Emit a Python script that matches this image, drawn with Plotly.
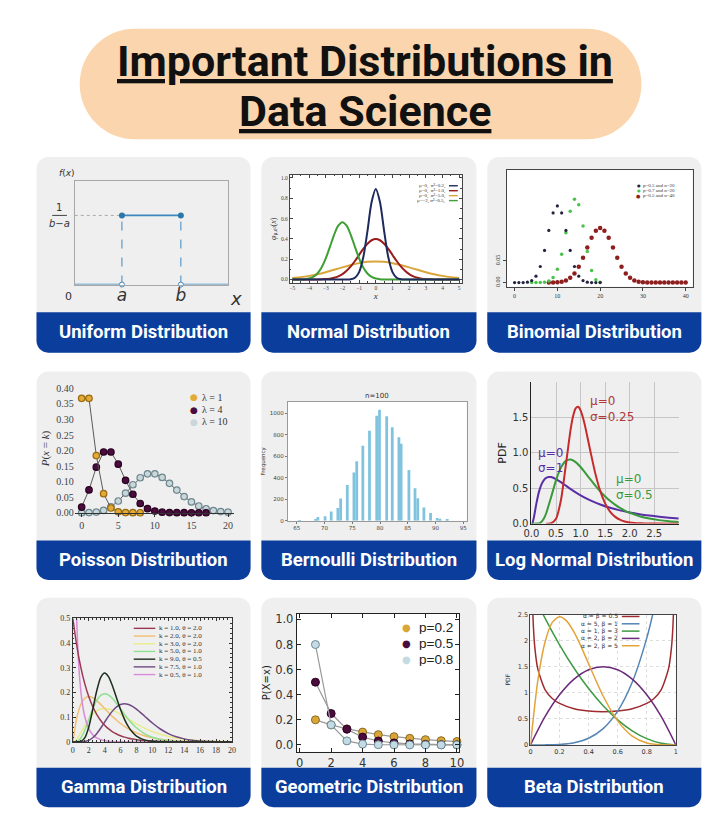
import plotly.graph_objects as go

W, H = 726, 825

# ======================= DATA =======================
title_line1 = "Important Distributions in"
title_line2 = "Data Science"
panel_names = ["Uniform Distribution", "Normal Distribution", "Binomial Distribution",
               "Poisson Distribution", "Bernoulli Distribution", "Log Normal Distribution",
               "Gamma Distribution", "Geometric Distribution", "Beta Distribution"]

# 1 Uniform
uni_a = 2.0
uni_b = 4.5
uni_xmax = 6.5
uni_pdf = 0.4

# 2 Normal
norm_labels = ["μ=0,  σ²=0.2,", "μ=0,  σ²=1.0,", "μ=0,  σ²=5.0,", "μ=−2, σ²=0.5,"]
norm_colors = ["#1f2a5c", "#9a1c1c", "#d9a53a", "#3f9f35"]
norm_x_a = [-5, -3, -2, -1.75, -1.5, -1.25, -1, -0.75, -0.5, -0.25, 0, 0.25, 0.5, 0.75, 1, 1.25, 1.5, 1.75, 2, 3, 5]
norm_y_a = [0, 0, 0, 0.0004, 0.0032, 0.0179, 0.0732, 0.219, 0.477, 0.763, 0.892, 0.763, 0.477, 0.219, 0.0732, 0.0179, 0.0032, 0.0004, 0, 0, 0]
norm_x_b = [-5, -4.5, -4, -3.5, -3, -2.75, -2.5, -2.25, -2, -1.75, -1.5, -1.25, -1, -0.75, -0.5, -0.25, 0,
            0.25, 0.5, 0.75, 1, 1.25, 1.5, 1.75, 2, 2.25, 2.5, 2.75, 3, 3.5, 4, 4.5, 5]
norm_y_b = [0, 0, 0.0001, 0.0009, 0.0044, 0.0091, 0.0175, 0.0317, 0.0540, 0.0863, 0.1295, 0.1826, 0.2420, 0.3011, 0.3521, 0.3867, 0.3989,
            0.3867, 0.3521, 0.3011, 0.2420, 0.1826, 0.1295, 0.0863, 0.0540, 0.0317, 0.0175, 0.0091, 0.0044, 0.0009, 0.0001, 0, 0]
norm_x_c = [-5, -4.5, -4, -3.5, -3, -2.5, -2, -1.5, -1, -0.5, 0, 0.5, 1, 1.5, 2, 2.5, 3, 3.5, 4, 4.5, 5]
norm_y_c = [0.0146, 0.0236, 0.0360, 0.0524, 0.0725, 0.0955, 0.1196, 0.1425, 0.1614, 0.1740, 0.1784,
            0.1740, 0.1614, 0.1425, 0.1196, 0.0955, 0.0725, 0.0524, 0.0360, 0.0236, 0.0146]
norm_x_d = [-5, -4.75, -4.5, -4.25, -4, -3.75, -3.5, -3.25, -3, -2.75, -2.5, -2.25, -2, -1.75, -1.5, -1.25, -1,
            -0.75, -0.5, -0.25, 0, 0.25, 0.5, 1, 2, 3, 4, 5]
norm_y_d = [0.0001, 0.0003, 0.0011, 0.0036, 0.0103, 0.0264, 0.0595, 0.1183, 0.2076, 0.3215, 0.4394, 0.5300, 0.5642,
            0.5300, 0.4394, 0.3215, 0.2076, 0.1183, 0.0595, 0.0264, 0.0103, 0.0036, 0.0011, 0, 0, 0, 0, 0]

# 3 Binomial
binom_labels = ["p=0.5 and n=20", "p=0.7 and n=20", "p=0.5 and n=40"]
binom_colors = ["#23233f", "#4cc24c", "#8e1f1f"]
binom_k_a = list(range(0, 21))
binom_p_a = [0.0000, 0.0000, 0.0002, 0.0011, 0.0046, 0.0148, 0.0370, 0.0739, 0.1201, 0.1602, 0.1762,
             0.1602, 0.1201, 0.0739, 0.0370, 0.0148, 0.0046, 0.0011, 0.0002, 0.0000, 0.0000]
binom_k_b = list(range(4, 21))
binom_p_b = [0.0000, 0.0000, 0.0002, 0.0010, 0.0039, 0.0120, 0.0308, 0.0654, 0.1144, 0.1643, 0.1916,
             0.1789, 0.1304, 0.0716, 0.0278, 0.0068, 0.0008]
binom_k_c = list(range(8, 41))
binom_p_c = [0.0000, 0.0002, 0.0008, 0.0021, 0.0051, 0.0109, 0.0211, 0.0366, 0.0572, 0.0807, 0.1031, 0.1194,
             0.1254, 0.1194, 0.1031, 0.0807, 0.0572, 0.0366, 0.0211, 0.0109, 0.0051, 0.0021, 0.0008, 0.0002,
             0, 0, 0, 0, 0, 0, 0, 0, 0]

# 4 Poisson
pois_labels = ["λ = 1", "λ = 4", "λ = 10"]
pois_fill = ["#e2aa36", "#4a0c3c", "#c9d6da"]
pois_edge = ["#9a6a10", "#2a0020", "#6f8890"]
pois_k_1 = list(range(0, 9))
pois_p_1 = [0.3679, 0.3679, 0.1839, 0.0613, 0.0153, 0.0031, 0.0005, 0.0001, 0.0000]
pois_k_4 = list(range(0, 18))
pois_p_4 = [0.0183, 0.0733, 0.1465, 0.1954, 0.1954, 0.1563, 0.1042, 0.0595, 0.0298, 0.0132, 0.0053, 0.0019,
            0.0006, 0.0002, 0.0001, 0.0000, 0.0000, 0.0000]
pois_k_10 = list(range(0, 21))
pois_p_10 = [0.0000, 0.0005, 0.0023, 0.0076, 0.0189, 0.0378, 0.0631, 0.0901, 0.1126, 0.1251, 0.1251, 0.1137,
             0.0948, 0.0729, 0.0521, 0.0347, 0.0217, 0.0128, 0.0071, 0.0037, 0.0019]

# 5 Bernoulli (histogram, n=100)
bern_x = [65.5, 68.4, 68.8, 70.1, 71.2, 72.4, 72.9, 74.1, 75.3, 75.8, 76.9, 78.1, 79.4, 79.9, 81.2, 82.2,
          83.4, 83.8, 85.2, 86.3, 86.8, 87.9, 89.1, 90.3, 90.8, 92.1]
bern_count = [5, 15, 34, 40, 86, 117, 206, 332, 449, 554, 698, 837, 978, 1034, 972, 871,
              778, 717, 471, 302, 209, 123, 71, 25, 18, 6]

# 6 Log normal
ln_x_025 = [0.3, 0.4, 0.5, 0.6, 0.7, 0.8, 0.85, 0.9, 0.95, 1.0, 1.05, 1.1, 1.2, 1.3, 1.4, 1.5, 1.6, 1.7, 1.8,
            1.9, 2.0, 2.1, 2.2, 2.3, 2.4, 2.5, 3.0]
ln_y_025 = [0.0, 0.0048, 0.0683, 0.330, 0.824, 1.339, 1.520, 1.622, 1.645, 1.596, 1.491, 1.349, 1.019, 0.708,
            0.461, 0.286, 0.170, 0.0987, 0.0559, 0.0311, 0.0171, 0.0093, 0.0050, 0.0027, 0.0014, 0.0008, 0.0]
ln_x_05 = [0, 0.1, 0.15, 0.2, 0.25, 0.3, 0.4, 0.5, 0.6, 0.7, 0.8, 0.9, 1.0, 1.1, 1.2, 1.3, 1.4, 1.5, 1.6, 1.7,
           1.8, 1.9, 2.0, 2.2, 2.4, 2.6, 2.8, 3.0]
ln_y_05 = [0, 0.0002, 0.0040, 0.0224, 0.0683, 0.1465, 0.372, 0.610, 0.789, 0.884, 0.903, 0.867, 0.798, 0.712,
           0.622, 0.535, 0.454, 0.383, 0.321, 0.267, 0.222, 0.184, 0.153, 0.105, 0.0718, 0.0494, 0.0342, 0.0238]
ln_x_1 = [0, 0.02, 0.05, 0.1, 0.15, 0.2, 0.25, 0.3, 0.35, 0.4, 0.5, 0.6, 0.7, 0.8, 0.9, 1.0, 1.2, 1.4, 1.6,
          1.8, 2.0, 2.2, 2.4, 2.6, 2.8, 3.0]
ln_y_1 = [0, 0.0095, 0.0898, 0.2816, 0.440, 0.546, 0.610, 0.644, 0.657, 0.6555, 0.6276, 0.5836, 0.5348, 0.4864,
          0.4409, 0.3989, 0.3269, 0.2693, 0.2233, 0.1864, 0.1569, 0.1329, 0.1133, 0.0972, 0.0839, 0.0727]
ln_colors = ["#c62b2b", "#3a9a3a", "#5a2ea6"]

# 7 Gamma
gam_labels = ["k = 1.0, θ = 2.0", "k = 2.0, θ = 2.0", "k = 3.0, θ = 2.0", "k = 5.0, θ = 1.0",
              "k = 9.0, θ = 0.5", "k = 7.5, θ = 1.0", "k = 0.5, θ = 1.0"]
gam_colors = ["#9b3a55", "#f3be72", "#e8ec8a", "#8fe08f", "#1e2e1e", "#6f4a82", "#d98ad8"]
g_x1 = [0, 0.5, 1, 1.5, 2, 2.5, 3, 3.5, 4, 4.5, 5, 5.5, 6, 6.5, 7, 7.5, 8, 9, 10, 11, 12, 14, 16, 20]
g_y1 = [0.5, 0.3894, 0.3033, 0.2362, 0.1839, 0.1433, 0.1116, 0.0869, 0.0677, 0.0527, 0.0410, 0.0320, 0.0249,
        0.0194, 0.0151, 0.0118, 0.0092, 0.0056, 0.0034, 0.0020, 0.0012, 0.0005, 0.0002, 0]
g_x2 = [0, 0.5, 1, 1.5, 2, 2.5, 3, 3.5, 4, 4.5, 5, 5.5, 6, 6.5, 7, 7.5, 8, 9, 10, 11, 12, 13, 14, 16, 18, 20]
g_y2 = [0, 0.0974, 0.1516, 0.1771, 0.1839, 0.1791, 0.1673, 0.1521, 0.1353, 0.1186, 0.1026, 0.0880, 0.0747,
        0.0631, 0.0528, 0.0443, 0.0366, 0.0250, 0.0168, 0.0112, 0.0074, 0.0049, 0.0032, 0.0013, 0.0006, 0.0002]
g_x3 = [0, 0.5, 1, 1.5, 2, 2.5, 3, 3.5, 4, 4.5, 5, 5.5, 6, 6.5, 7, 7.5, 8, 9, 10, 11, 12, 13, 14, 15, 16, 18, 20]
g_y3 = [0, 0.0122, 0.0379, 0.0664, 0.0920, 0.1119, 0.1255, 0.1331, 0.1353, 0.1334, 0.1283, 0.1208, 0.1120,
        0.1025, 0.0925, 0.0826, 0.0733, 0.0562, 0.0421, 0.0309, 0.0223, 0.0159, 0.0112, 0.0078, 0.0054, 0.0025, 0.0011]
g_x4 = [0, 0.5, 1, 1.5, 2, 2.5, 3, 3.5, 4, 4.5, 5, 5.5, 6, 6.5, 7, 7.5, 8, 9, 10, 11, 12, 13, 14, 16, 20]
g_y4 = [0, 0.0016, 0.0153, 0.0471, 0.0902, 0.1336, 0.1680, 0.1888, 0.1954, 0.1898, 0.1755, 0.1558, 0.1339,
        0.1118, 0.0912, 0.0729, 0.0573, 0.0337, 0.0189, 0.0102, 0.0053, 0.0027, 0.0013, 0.0003, 0]
g_x5 = [0, 1, 1.5, 2, 2.5, 3, 3.5, 4, 4.5, 5, 5.5, 6, 6.5, 7, 7.5, 8, 9, 10, 11, 12, 14, 20]
g_y5 = [0, 0.0017, 0.0162, 0.0595, 0.1306, 0.2065, 0.2608, 0.2791, 0.2635, 0.2252, 0.1776, 0.1310, 0.0915,
        0.0609, 0.0389, 0.0240, 0.0083, 0.0026, 0.0008, 0.0002, 0, 0]
g_x6 = [0, 1, 1.5, 2, 2.5, 3, 3.5, 4, 4.5, 5, 5.5, 6, 6.5, 7, 7.5, 8, 9, 10, 11, 12, 13, 14, 15, 16, 17, 18, 20]
g_y6 = [0, 0.0002, 0.0017, 0.0065, 0.0169, 0.0336, 0.0555, 0.0802, 0.1046, 0.1258, 0.1418, 0.1515, 0.1546,
        0.1517, 0.1441, 0.1329, 0.1052, 0.0767, 0.0524, 0.0340, 0.0210, 0.0125, 0.0072, 0.0040, 0.0022, 0.0012, 0.0003]
g_x7 = [0.1, 0.15, 0.2, 0.3, 0.4, 0.5, 0.75, 1, 1.25, 1.5, 2, 2.5, 3, 4, 5, 6, 8, 20]
g_y7 = [1.614, 1.254, 1.033, 0.763, 0.598, 0.484, 0.3077, 0.2076, 0.1446, 0.1028, 0.0540, 0.0293, 0.0162,
        0.0052, 0.0017, 0.0006, 0.0001, 0]

# 8 Geometric
geo_labels = ["p=0.2", "p=0.5", "p=0.8"]
geo_fill = ["#d9a637", "#4a0b3d", "#c5dbe3"]
geo_edge = ["#8a6a20", "#2a0020", "#6a8a96"]
geo_x = [1, 2, 3, 4, 5, 6, 7, 8, 9, 10]
geo_p02 = [0.2, 0.16, 0.128, 0.1024, 0.0819, 0.0655, 0.0524, 0.0419, 0.0336, 0.0268]
geo_p05 = [0.5, 0.25, 0.125, 0.0625, 0.0313, 0.0156, 0.0078, 0.0039, 0.0020, 0.0010]
geo_p08 = [0.8, 0.16, 0.032, 0.0064, 0.0013, 0.0003, 0.0001, 0, 0, 0]

# 9 Beta
beta_labels = ["α = β = 0.5", "α = 5, β = 1", "α = 1, β = 3", "α = 2, β = 2", "α = 2, β = 5"]
beta_colors = ["#9e2b2f", "#5585b5", "#3f9a45", "#6a2a78", "#e3a33a"]
b_x_a = [0.004, 0.01, 0.02, 0.03, 0.05, 0.1, 0.15, 0.2, 0.3, 0.4, 0.5, 0.6, 0.7, 0.8, 0.85, 0.9, 0.95, 0.97, 0.98, 0.99, 0.996]
b_y_a = [5.04, 3.199, 2.274, 1.866, 1.461, 1.061, 0.891, 0.796, 0.695, 0.650, 0.637, 0.650, 0.695, 0.796, 0.891,
         1.061, 1.461, 1.866, 2.274, 3.199, 5.04]
b_x_b = [0, 0.1, 0.2, 0.3, 0.4, 0.5, 0.6, 0.7, 0.8, 0.85, 0.9]
b_y_b = [0, 0.0005, 0.008, 0.0405, 0.128, 0.3125, 0.648, 1.2005, 2.048, 2.610, 3.2805]
b_x_c = [0, 0.1, 0.2, 0.3, 0.4, 0.5, 0.6, 0.7, 0.8, 0.9, 1.0]
b_y_c = [3, 2.43, 1.92, 1.47, 1.08, 0.75, 0.48, 0.27, 0.12, 0.03, 0]
b_y_d = [0, 0.54, 0.96, 1.26, 1.44, 1.5, 1.44, 1.26, 0.96, 0.54, 0]
b_x_e = [0, 0.05, 0.1, 0.15, 0.2, 0.25, 0.3, 0.35, 0.4, 0.5, 0.6, 0.7, 0.8, 0.9, 1]
b_y_e = [0, 1.2218, 1.968, 2.349, 2.458, 2.373, 2.161, 1.874, 1.555, 0.9375, 0.4608, 0.1701, 0.0384, 0.0027, 0]

# ======================= LAYOUT (pixels) =======================
CARD_X = [(29, 247), (258, 477), (488, 706)]
CARD_Y = [(155, 312, 353), (372, 543, 583), (601, 773, 813)]
PLOT = {1: (68, 179, 224, 284), 2: (287, 173, 462, 282), 3: (508, 168, 697, 286),
        4: (68, 385, 230, 515), 5: (285, 403, 467, 523), 6: (533, 383, 683, 526),
        7: (66, 622, 228, 747), 8: (294, 617, 459, 757), 9: (532, 618, 680, 750)}
CARD_BG = "#efefef"
BAR_BLUE = "#0b3e9c"
PEACH = "#fbd5ad"
SANS = "DejaVu Sans"
SERIF = "Liberation Serif"


def X(p):
    return p / W


def Y(p):
    return 1 - p / H


def rr_path(x0, y0, x1, y1, rt, rb):
    k = 0.5523
    pts = [
        f"M {X(x0 + rt)},{Y(y0)}", f"L {X(x1 - rt)},{Y(y0)}",
        f"C {X(x1 - rt + k * rt)},{Y(y0)} {X(x1)},{Y(y0 + rt - k * rt)} {X(x1)},{Y(y0 + rt)}",
        f"L {X(x1)},{Y(y1 - rb)}",
        f"C {X(x1)},{Y(y1 - rb + k * rb)} {X(x1 - rb + k * rb)},{Y(y1)} {X(x1 - rb)},{Y(y1)}",
        f"L {X(x0 + rb)},{Y(y1)}",
        f"C {X(x0 + rb - k * rb)},{Y(y1)} {X(x0)},{Y(y1 - rb + k * rb)} {X(x0)},{Y(y1 - rb)}",
        f"L {X(x0)},{Y(y0 + rt)}",
        f"C {X(x0)},{Y(y0 + rt - k * rt)} {X(x0 + rt - k * rt)},{Y(y0)} {X(x0 + rt)},{Y(y0)}", "Z"]
    return " ".join(pts)


shapes = []
annotations = []
layout = {}
fig = go.Figure()


def ann_px(x, y, text, size, color="#222", family=SANS, xanchor="left", yanchor="middle", **kw):
    annotations.append(dict(x=X(x), y=Y(y), xref="paper", yref="paper", text=text, showarrow=False,
                            font=dict(size=size, color=color, family=family),
                            xanchor=xanchor, yanchor=yanchor, **kw))


def line_px(x0, x1, y, color, width):
    shapes.append(dict(type="line", xref="paper", yref="paper", x0=X(x0), x1=X(x1), y0=Y(y), y1=Y(y),
                       line=dict(color=color, width=width)))


def axes(i, xr, yr, xkw=None, ykw=None):
    l, t, r, b = PLOT[i]
    s = "" if i == 1 else str(i)
    xa = dict(domain=[X(l), X(r)], range=xr, anchor="y" + s, showgrid=False, zeroline=False, fixedrange=True)
    ya = dict(domain=[Y(b), Y(t)], range=yr, anchor="x" + s, showgrid=False, zeroline=False, fixedrange=True)
    xa.update(xkw or {})
    ya.update(ykw or {})
    layout["xaxis" + s] = xa
    layout["yaxis" + s] = ya
    return "x" + s, "y" + s


# ---------- background: title pill, cards, blue bars ----------
shapes.append(dict(type="path", xref="paper", yref="paper", path=rr_path(73, 25, 645, 137, 56, 56),
                   fillcolor=PEACH, line=dict(width=0), layer="below"))
for r, (ct, bt, cb) in enumerate(CARD_Y):
    for c, (cl, cr) in enumerate(CARD_X):
        shapes.append(dict(type="path", xref="paper", yref="paper", path=rr_path(cl, ct, cr, cb, 12, 12),
                           fillcolor=CARD_BG, line=dict(width=0), layer="below"))
        shapes.append(dict(type="path", xref="paper", yref="paper", path=rr_path(cl, bt, cr, cb, 0, 12),
                           fillcolor=BAR_BLUE, line=dict(width=0), layer="below"))
        ann_px((cl + cr) / 2, (bt + cb) / 2, "<b>" + panel_names[r * 3 + c] + "</b>", 18.5,
               color="white", family="Roboto", xanchor="center")

ann_px(364, 58, "<b><u>" + title_line1 + "</u></b>", 43, color="#111", family="Roboto", xanchor="center")
ann_px(364, 108, "<b><u>" + title_line2 + "</u></b>", 43, color="#111", family="Roboto", xanchor="center")

# white plot backgrounds
for i in [2, 3, 5, 8, 9]:
    s = "" if i == 1 else str(i)
    shapes.append(dict(type="rect", xref="x" + s + " domain", yref="y" + s + " domain", x0=0, x1=1, y0=0, y1=1,
                       fillcolor="white", line=dict(width=0), layer="below"))

# ---------- 1 Uniform ----------
UB = "#3f88bf"
xa, ya = axes(1, [0, uni_xmax], [0, 0.6],
              dict(showline=True, mirror=True, linecolor="#a8a8a8", linewidth=1, ticks="",
                   tickvals=[uni_a, uni_b], ticktext=["<i>a</i>", "<i>b</i>"], ticklabelstandoff=-5,
                   tickfont=dict(size=17, color="#333", family=SANS)),
              dict(showline=True, mirror=True, linecolor="#a8a8a8", linewidth=1, ticks="", showticklabels=False))
fig.add_trace(go.Scatter(x=[0, uni_a], y=[uni_pdf, uni_pdf], mode="lines", xaxis=xa, yaxis=ya,
                         line=dict(color="#aaaaaa", width=1, dash="dot")))
fig.add_trace(go.Scatter(x=[uni_a, uni_a, None, uni_b, uni_b], y=[0, uni_pdf, None, 0, uni_pdf], mode="lines",
                         xaxis=xa, yaxis=ya, line=dict(color=UB, width=1, dash="dash")))
fig.add_trace(go.Scatter(x=[0, uni_a, None, uni_a, uni_b, None, uni_b, uni_xmax],
                         y=[0, 0, None, uni_pdf, uni_pdf, None, 0, 0], mode="lines", cliponaxis=False,
                         xaxis=xa, yaxis=ya, line=dict(color=UB, width=1.6)))
fig.add_trace(go.Scatter(x=[uni_a, uni_b], y=[uni_pdf, uni_pdf], mode="markers", xaxis=xa, yaxis=ya,
                         marker=dict(color="#2a78aa", size=6)))
fig.add_trace(go.Scatter(x=[uni_a, uni_b], y=[0, 0], mode="markers", xaxis=xa, yaxis=ya, cliponaxis=False,
                         marker=dict(color="white", size=5, line=dict(color=UB, width=1))))
annotations.append(dict(x=0, y=0, xref=xa, yref=ya, text="0", showarrow=False, xanchor="right", yanchor="top",
                        xshift=-1, yshift=-3, font=dict(size=11, color="#333", family=SANS)))
annotations.append(dict(x=uni_xmax, y=0, xref=xa, yref=ya, text="<i>x</i>", showarrow=False, xanchor="left",
                        yanchor="top", xshift=0, yshift=-1, font=dict(size=18, color="#333", family=SANS)))
annotations.append(dict(x=X(60), y=1, xref="paper", yref=ya + " domain", text="<i>f</i>(<i>x</i>)", showarrow=False,
                        xanchor="center", yanchor="bottom", yshift=1, font=dict(size=9, color="#333", family=SANS)))
annotations.append(dict(x=X(52), y=uni_pdf, xref="paper", yref=ya, text="1", showarrow=False, xanchor="center",
                        yanchor="bottom", yshift=0, font=dict(size=10, color="#333", family=SANS)))
annotations.append(dict(x=X(52), y=uni_pdf, xref="paper", yref=ya, text="<i>b</i>−<i>a</i>", showarrow=False,
                        xanchor="center", yanchor="top", yshift=-1, font=dict(size=10, color="#333", family=SANS)))
shapes.append(dict(type="line", xref="paper", yref=ya, x0=X(45), x1=X(60), y0=uni_pdf, y1=uni_pdf,
                   line=dict(color="#444", width=1)))

# ---------- 2 Normal ----------
tick_small = dict(showline=True, mirror="ticks", linecolor="#444", linewidth=1, ticks="inside", ticklen=3,
                  tickwidth=0.8, tickcolor="#444", tickfont=dict(size=5.5, color="#444", family=SERIF))
xa, ya = axes(2, [-5.15, 5.15], [-0.03, 1.03],
              dict(tick_small, dtick=1, minor=dict(ticks="inside", ticklen=1.5, dtick=0.5, tickcolor="#444"),
                   title=dict(text="<i>x</i>", font=dict(size=9, family=SERIF, color="#333"), standoff=2)),
              dict(tick_small, dtick=0.2, tickformat=".1f",
                   minor=dict(ticks="inside", ticklen=1.5, dtick=0.1, tickcolor="#444"),
                   title=dict(text="<i>φ</i><sub>μ,σ²</sub>(<i>x</i>)", font=dict(size=8, family=SERIF, color="#333"),
                              standoff=3)))
for xs, ys, col in [(norm_x_c, norm_y_c, norm_colors[2]), (norm_x_b, norm_y_b, norm_colors[1]),
                    (norm_x_d, norm_y_d, norm_colors[3]), (norm_x_a, norm_y_a, norm_colors[0])]:
    fig.add_trace(go.Scatter(x=xs, y=ys, mode="lines", xaxis=xa, yaxis=ya,
                             line=dict(color=col, width=2, shape="spline", smoothing=0.8)))
for j, (lab, col) in enumerate(zip(norm_labels, norm_colors)):
    yy = 184 + j * 5
    ann_px(447, yy, lab, 5, color="#333", family=SERIF, xanchor="right")
    line_px(449, 458, yy, col, 1.4)

# ---------- 3 Binomial ----------
xa, ya = axes(3, [-1.8, 41.6], [-0.009, 0.259],
              dict(showline=True, mirror=True, linecolor="#444", linewidth=1.2, ticks="outside", ticklen=3,
                   tickcolor="#444", tickvals=[0, 10, 20, 30, 40], tickfont=dict(size=6, color="#333", family=SERIF)),
              dict(showline=True, mirror=True, linecolor="#444", linewidth=1.2, ticks="outside", ticklen=3,
                   tickcolor="#444", tickvals=[0, 0.05], ticktext=["0.00", "0.05"],
                   tickangle=-90, tickfont=dict(size=6, color="#333", family=SERIF)))
fig.add_trace(go.Scatter(x=binom_k_c, y=binom_p_c, mode="markers", xaxis=xa, yaxis=ya,
                         marker=dict(color=binom_colors[2], size=4.5)))
fig.add_trace(go.Scatter(x=binom_k_b, y=binom_p_b, mode="markers", xaxis=xa, yaxis=ya,
                         marker=dict(color=binom_colors[1], size=3.5)))
fig.add_trace(go.Scatter(x=binom_k_a, y=binom_p_a, mode="markers", xaxis=xa, yaxis=ya,
                         marker=dict(color=binom_colors[0], size=3.2)))
for j, (lab, col) in enumerate(zip(binom_labels, binom_colors)):
    yy = 184 + j * 5
    ann_px(642, yy, "●", 4 if j < 2 else 5, color=col, xanchor="center")
    ann_px(645, yy, lab, 5, color="#333", family=SERIF)

# ---------- 4 Poisson ----------
xa, ya = axes(4, [-0.94, 20.8], [0, 0.413],
              dict(showline=True, linecolor="#333", linewidth=1, ticks="outside", ticklen=3, tickcolor="#333",
                   tickvals=[0, 5, 10, 15, 20], tickfont=dict(size=10, color="#444", family=SERIF)),
              dict(showline=False, ticks="", tickvals=[0, 0.05, 0.10, 0.15, 0.20, 0.25, 0.30, 0.35, 0.40],
                   tickformat=".2f", tickfont=dict(size=10, color="#444", family=SERIF),
                   title=dict(text="<i>P</i>(<i>x</i> = <i>k</i>)", font=dict(size=11, family=SERIF, color="#333"),
                              standoff=4)))
for ks, ps, fc, ec in [(pois_k_10, pois_p_10, pois_fill[2], pois_edge[2]),
                       (pois_k_4, pois_p_4, pois_fill[1], pois_edge[1]),
                       (pois_k_1, pois_p_1, pois_fill[0], pois_edge[0])]:
    fig.add_trace(go.Scatter(x=ks, y=ps, mode="lines+markers", xaxis=xa, yaxis=ya, cliponaxis=False,
                             line=dict(color="#5a5a5a", width=1),
                             marker=dict(color=fc, size=6.5, line=dict(color=ec, width=1.2))))
for j, (lab, fc, ec) in enumerate(zip(pois_labels, pois_fill, pois_edge)):
    yy = 398 + j * 12.5
    ann_px(189, yy, "●", 9, color=fc, xanchor="center")
    ann_px(196, yy, lab, 10, color="#333", family=SERIF)

# ---------- 5 Bernoulli ----------
xa, ya = axes(5, [63.4, 95.6], [0, 1104],
              dict(showline=True, mirror=True, linecolor="#9a9a9a", linewidth=1, ticks="outside", ticklen=2,
                   tickcolor="#777", tickvals=[65, 70, 75, 80, 85, 90, 95],
                   tickfont=dict(size=5.5, color="#444", family=SANS)),
              dict(showline=True, mirror=True, linecolor="#9a9a9a", linewidth=1, ticks="outside", ticklen=2,
                   tickcolor="#777", tickvals=[0, 200, 400, 600, 800, 1000],
                   tickfont=dict(size=5.5, color="#444", family=SANS),
                   title=dict(text="Frequency", font=dict(size=5.5, family=SANS, color="#333"), standoff=3)))
fig.add_trace(go.Bar(x=bern_x, y=bern_count, width=0.5, xaxis=xa, yaxis=ya,
                     marker=dict(color="#7fc3df", line=dict(width=0))))
annotations.append(dict(x=0.5, y=1, xref=xa + " domain", yref=ya + " domain", text="n=100", showarrow=False,
                        xanchor="center", yanchor="bottom", yshift=0, font=dict(size=7, color="#333", family=SANS)))

# ---------- 6 Log normal ----------
xa, ya = axes(6, [0, 3.0], [0, 1.99],
              dict(showline=True, linecolor="#222", linewidth=1.2, showgrid=True, gridcolor="#c6c6c6",
                   gridwidth=1, ticks="", tickvals=[0, 0.5, 1.0, 1.5, 2.0, 2.5], tickformat=".1f",
                   tickfont=dict(size=10, color="#333", family=SANS)),
              dict(showline=True, linecolor="#222", linewidth=1.2, showgrid=True, gridcolor="#c6c6c6",
                   gridwidth=1, ticks="", tickvals=[0, 0.5, 1.0, 1.5], tickformat=".1f",
                   tickfont=dict(size=10, color="#333", family=SANS),
                   title=dict(text="PDF", font=dict(size=11, family=SANS, color="#222"), standoff=3)))
for xs, ys, col in [(ln_x_1, ln_y_1, ln_colors[2]), (ln_x_05, ln_y_05, ln_colors[1]),
                    (ln_x_025, ln_y_025, ln_colors[0])]:
    fig.add_trace(go.Scatter(x=xs, y=ys, mode="lines", xaxis=xa, yaxis=ya,
                             line=dict(color=col, width=2, shape="spline", smoothing=0.7)))
ann_px(591, 402, "μ=0", 12, color="#b03a3a")
ann_px(591, 418, "σ=0.25", 12, color="#b03a3a")
ann_px(538, 455, "μ=0", 12, color="#5a2ea6")
ann_px(538, 470, "σ=1", 12, color="#5a2ea6")
ann_px(617, 481, "μ=0", 12, color="#3a9a3a")
ann_px(617, 497, "σ=0.5", 12, color="#3a9a3a")

# ---------- 7 Gamma ----------
gk = dict(showline=True, mirror="ticks", linecolor="#333", linewidth=1, ticks="inside", ticklen=3,
          tickcolor="#333", tickfont=dict(size=8, color="#333", family=SERIF))
xa, ya = axes(7, [0, 20], [0, 0.5],
              dict(gk, dtick=2, minor=dict(ticks="inside", ticklen=1.5, dtick=0.5, tickcolor="#333")),
              dict(gk, tickvals=[0, 0.1, 0.2, 0.3, 0.4, 0.5], ticktext=["0", "0.1", "0.2", "0.3", "0.4", "0.5"],
                   minor=dict(ticks="inside", ticklen=1.5, dtick=0.02, tickcolor="#333")))
for xs, ys, col in [(g_x3, g_y3, gam_colors[2]), (g_x2, g_y2, gam_colors[1]), (g_x4, g_y4, gam_colors[3]),
                    (g_x7, g_y7, gam_colors[6]), (g_x6, g_y6, gam_colors[5]), (g_x1, g_y1, gam_colors[0]),
                    (g_x5, g_y5, gam_colors[4])]:
    fig.add_trace(go.Scatter(x=xs, y=ys, mode="lines", xaxis=xa, yaxis=ya,
                             line=dict(color=col, width=1.5, shape="spline", smoothing=0.7)))
for j, (lab, col) in enumerate(zip(gam_labels, gam_colors)):
    yy = 632 + j * 7.8
    line_px(128, 150, yy, col, 1.4)
    ann_px(152, yy, lab, 7, color="#333", family=SERIF)

# ---------- 8 Geometric ----------
gg = dict(showline=True, mirror="ticks", linecolor="#222", linewidth=1, ticks="inside", ticklen=4,
          tickcolor="#222", tickfont=dict(size=11.5, color="#333", family=SANS))
xa, ya = axes(8, [-0.19, 10.12], [-0.055, 1.047],
              dict(gg, tickvals=[0, 2, 4, 6, 8, 10]),
              dict(gg, tickvals=[0, 0.2, 0.4, 0.6, 0.8, 1.0], tickformat=".1f",
                   title=dict(text="P(X=x)", font=dict(size=10, family=SANS, color="#222"), standoff=2)))
for ps, fc, ec in [(geo_p02, geo_fill[0], geo_edge[0]), (geo_p05, geo_fill[1], geo_edge[1]),
                   (geo_p08, geo_fill[2], geo_edge[2])]:
    fig.add_trace(go.Scatter(x=geo_x, y=ps, mode="lines+markers", xaxis=xa, yaxis=ya, cliponaxis=False,
                             line=dict(color="#9a9a9a", width=1.2),
                             marker=dict(color=fc, size=8, line=dict(color=ec, width=1))))
for j, (lab, fc) in enumerate(zip(geo_labels, geo_fill)):
    yy = 631 + j * 16
    ann_px(406, yy, "●", 10, color=fc, xanchor="center", height=14)
    ann_px(416, yy, lab, 13.5, color="#222", family="Liberation Sans", height=14)

# ---------- 9 Beta ----------
bk = dict(showline=True, mirror=True, linecolor="#444", linewidth=1, ticks="", showgrid=True,
          gridcolor="#dddddd", griddash="dot", gridwidth=1, tickfont=dict(size=6.5, color="#333", family=SANS))
xa, ya = axes(9, [0, 1], [0, 2.5],
              dict(bk, tickvals=[0, 0.2, 0.4, 0.6, 0.8, 1.0], ticktext=["0", "0.2", "0.4", "0.6", "0.8", "1"]),
              dict(bk, tickvals=[0, 0.5, 1, 1.5, 2, 2.5], ticktext=["0", "0.5", "1", "1.5", "2", "2.5"],
                   title=dict(text="PDF", font=dict(size=6, family=SANS, color="#333"), standoff=6)))
for xs, ys, col in [(b_x_a, b_y_a, beta_colors[0]), (b_x_b, b_y_b, beta_colors[1]), (b_x_c, b_y_c, beta_colors[2]),
                    (b_x_c, b_y_d, beta_colors[3]), (b_x_e, b_y_e, beta_colors[4])]:
    fig.add_trace(go.Scatter(x=xs, y=ys, mode="lines", xaxis=xa, yaxis=ya,
                             line=dict(color=col, width=1.5, shape="spline", smoothing=0.7)))
for j, (lab, col) in enumerate(zip(beta_labels, beta_colors)):
    yy = 620 + j * 7.4
    ann_px(623, yy, lab, 6, color="#333", family=SANS, xanchor="right")
    line_px(625, 643, yy, col, 1.5)

fig.update_layout(width=W, height=H, margin=dict(l=0, r=0, t=0, b=0), paper_bgcolor="white",
                  plot_bgcolor="rgba(0,0,0,0)", showlegend=False, shapes=shapes, annotations=annotations,
                  **layout)
fig.write_html("out.html")
